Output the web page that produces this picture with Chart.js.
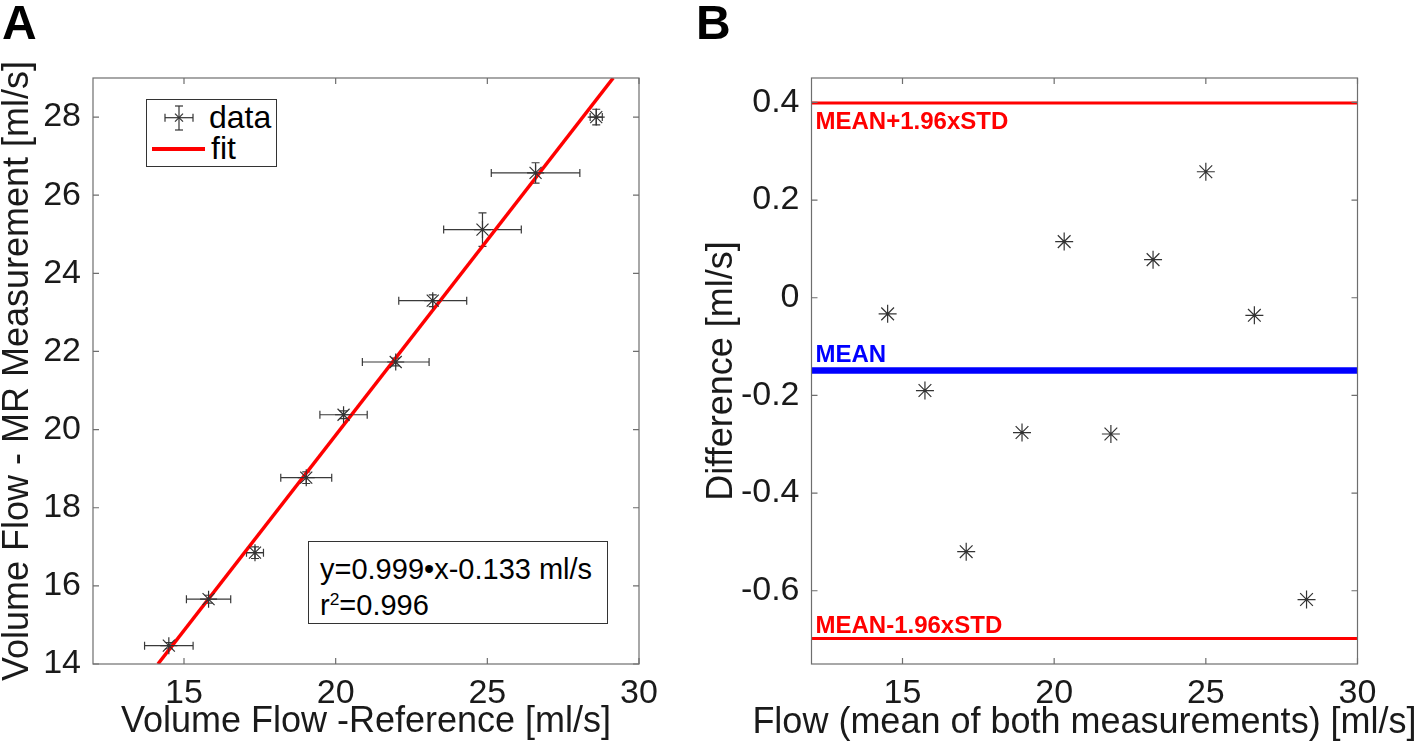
<!DOCTYPE html>
<html>
<head>
<meta charset="utf-8">
<title>Volume flow validation</title>
<script src="https://cdn.jsdelivr.net/npm/chart.js@4.4.1/dist/chart.umd.min.js"></script>
<style>
  body { margin: 0; background: #fff; font-family: "Liberation Sans", Arial, Helvetica, sans-serif; }
  #wrap { position: relative; width: 1418px; height: 750px; overflow: hidden; }
  canvas { position: absolute; top: 0; }
  #leftChart { left: 0; }
  #rightChart { left: 700px; }
  .txt { position: absolute; line-height: 1; white-space: nowrap; color: #000; }
  .panel { font-weight: bold; }
  .box { position: absolute; border: 1px solid #333; background: #fff; box-sizing: border-box; }
  .loa { font-weight: bold; color: #ff0000; }
  .mean { font-weight: bold; color: #0000ff; }
  #xTitleB { color: #1a1a1a; transform: translateX(-50%); }
  sup { font-size: 60%; vertical-align: 0.55em; line-height: 0; }
</style>
</head>
<body>
<div id="wrap">
  <canvas id="leftChart" width="700" height="750"></canvas>
  <canvas id="rightChart" width="718" height="750"></canvas>

  <div class="txt panel" id="lblA">A</div>
  <div class="txt panel" id="lblB">B</div>

  <!-- legend of panel A -->
  <div class="box" id="legendBox"></div>
  <svg id="legendSym" width="140" height="80" style="position:absolute;left:140px;top:95px;">
    <g stroke="#333" stroke-width="1.2" fill="none">
      <line x1="25" y1="22.7" x2="53" y2="22.7"/>
      <line x1="25" y1="18.7" x2="25" y2="26.7"/>
      <line x1="53" y1="18.7" x2="53" y2="26.7"/>
      <line x1="39" y1="11" x2="39" y2="35"/>
      <line x1="35" y1="11" x2="43" y2="11"/>
      <line x1="35" y1="35" x2="43" y2="35"/>
      <line x1="35" y1="18.7" x2="43" y2="26.7"/>
      <line x1="43" y1="18.7" x2="35" y2="26.7"/>
    </g>
    <line x1="12" y1="54" x2="65" y2="54" stroke="#ff0000" stroke-width="4"/>
  </svg>
  <div class="txt" id="legData">data</div>
  <div class="txt" id="legFit">fit</div>

  <!-- fit result box -->
  <div class="box" id="eqBox"></div>
  <div class="txt" id="eq1">y=0.999•x-0.133 ml/s</div>
  <div class="txt" id="eq2">r<sup>2</sup>=0.996</div>

  <!-- Bland-Altman line labels -->
  <div class="txt loa" id="lblUpper">MEAN+1.96xSTD</div>
  <div class="txt mean" id="lblMean">MEAN</div>
  <div class="txt loa" id="lblLower">MEAN-1.96xSTD</div>

  <!-- wider than the plot, so kept out of the canvas title (which would squeeze it) -->
  <div class="txt" id="xTitleB">Flow (mean of both measurements) [ml/s]</div>
</div>

<script>
// ---- values ----
// panel A: reference flow vs MR flow (ml/s) with error bars
const refFlow = [14.50, 15.81, 17.34, 19.03, 20.26, 21.98, 23.20, 24.84, 26.59, 28.59];
const mrFlow  = [14.47, 15.66, 16.85, 18.77, 20.38, 21.73, 23.30, 25.12, 26.57, 28.00];
const refErr  = [0.80, 0.73, 0.28, 0.84, 0.78, 1.10, 1.12, 1.28, 1.46, 0.20];
const mrErr   = [0.08, 0.10, 0.15, 0.15, 0.10, 0.10, 0.15, 0.43, 0.26, 0.20];
// fitted line end points
const fitX = [14.14, 29.15];
const fitY = [14.0, 29.0];

// panel B: Bland-Altman
const meanFlow = [14.51, 15.74, 17.10, 18.94, 20.33, 21.87, 23.26, 25.00, 26.60, 28.32];
const diffFlow = [-0.033, -0.190, -0.520, -0.276, 0.115, -0.279, 0.078, 0.258, -0.036, -0.618];
const meanDiff = -0.149;
const upperLoA = 0.399;
const lowerLoA = -0.698;

// axes
const flowRange = [12, 30];
const mrRange = [14, 29];
const diffRange = [-0.75, 0.45];
const flowTicks = [15, 20, 25, 30];
const mrTicks = [14, 16, 18, 20, 22, 24, 26, 28];
const diffTicks = [-0.6, -0.4, -0.2, 0, 0.2, 0.4];

const FONT = '"Liberation Sans", Arial, Helvetica, sans-serif';
const INK = '#1a1a1a';
const BOX = '#6e6e6e';
const TICK_SIZE = 34;
const TITLE_SIZE = 36;

// MATLAB style axes box with inward ticks on all four sides
const boxTicks = {
    id: 'boxTicks',
    afterDraw(chart) {
        const { ctx, chartArea: a, scales } = chart;
        const len = 6;
        ctx.save();
        ctx.strokeStyle = BOX;
        ctx.lineWidth = 1.2;
        ctx.strokeRect(a.left, a.top, a.right - a.left, a.bottom - a.top);
        ctx.beginPath();
        scales.x.ticks.forEach(t => {
            const px = scales.x.getPixelForValue(t.value);
            ctx.moveTo(px, a.bottom); ctx.lineTo(px, a.bottom - len);
            ctx.moveTo(px, a.top); ctx.lineTo(px, a.top + len);
        });
        scales.y.ticks.forEach(t => {
            const py = scales.y.getPixelForValue(t.value);
            ctx.moveTo(a.left, py); ctx.lineTo(a.left + len, py);
            ctx.moveTo(a.right, py); ctx.lineTo(a.right - len, py);
        });
        ctx.stroke();
        ctx.restore();
    }
};

// horizontal + vertical error bars for panel A
const errorBars = {
    id: 'errorBars',
    beforeDatasetsDraw(chart) {
        const { ctx, scales: { x, y } } = chart;
        const cap = 4;
        ctx.save();
        ctx.strokeStyle = '#3a3a3a';
        ctx.lineWidth = 1.2;
        ctx.beginPath();
        refFlow.forEach((rx, i) => {
            const px = x.getPixelForValue(rx);
            const py = y.getPixelForValue(mrFlow[i]);
            const x0 = x.getPixelForValue(rx - refErr[i]);
            const x1 = x.getPixelForValue(rx + refErr[i]);
            const y0 = y.getPixelForValue(mrFlow[i] - mrErr[i]);
            const y1 = y.getPixelForValue(mrFlow[i] + mrErr[i]);
            ctx.moveTo(x0, py); ctx.lineTo(x1, py);
            ctx.moveTo(x0, py - cap); ctx.lineTo(x0, py + cap);
            ctx.moveTo(x1, py - cap); ctx.lineTo(x1, py + cap);
            ctx.moveTo(px, y0); ctx.lineTo(px, y1);
            ctx.moveTo(px - cap, y0); ctx.lineTo(px + cap, y0);
            ctx.moveTo(px - cap, y1); ctx.lineTo(px + cap, y1);
        });
        ctx.stroke();
        ctx.restore();
    }
};

function xAxis(title, range) {
    return {
        type: 'linear', min: range[0], max: range[1],
        afterBuildTicks: s => { s.ticks = flowTicks.map(v => ({ value: v })); },
        afterFit: s => { s.height = 86; },
        grid: { display: false, drawTicks: false },
        border: { display: false },
        ticks: { color: INK, autoSkip: false, maxRotation: 0, padding: 9,
                 font: { family: FONT, size: TICK_SIZE }, callback: v => String(v) },
        title: { display: !!title, text: title, color: INK,
                 font: { family: FONT, size: TITLE_SIZE }, padding: { top: 0, bottom: 6 } }
    };
}

function yAxis(title, range, tickValues, width, titlePad) {
    return {
        type: 'linear', min: range[0], max: range[1],
        afterBuildTicks: s => { s.ticks = tickValues.map(v => ({ value: v })); },
        afterFit: s => { s.width = width; },
        grid: { display: false, drawTicks: false },
        border: { display: false },
        ticks: { color: INK, autoSkip: false, padding: 12,
                 font: { family: FONT, size: TICK_SIZE }, callback: v => String(v) },
        title: { display: true, text: title, color: INK,
                 font: { family: FONT, size: TITLE_SIZE, lineHeight: 1 }, padding: { top: titlePad, bottom: 0 } }
    };
}

const commonOptions = {
    responsive: false,
    animation: false,
    events: [],
    plugins: { legend: { display: false }, tooltip: { enabled: false } }
};

const leftChart = new Chart(document.getElementById('leftChart'), {
    type: 'scatter',
    data: {
        datasets: [
            {
                label: 'data',
                data: refFlow.map((v, i) => ({ x: v, y: mrFlow[i] })),
                pointStyle: 'star', pointRadius: 8.5,
                borderColor: '#333', borderWidth: 1.2, backgroundColor: 'rgba(0,0,0,0)'
            },
            {
                label: 'fit', type: 'line',
                data: fitX.map((v, i) => ({ x: v, y: fitY[i] })),
                borderColor: '#ff0000', borderWidth: 3.5, pointRadius: 0
            }
        ]
    },
    options: {
        ...commonOptions,
        layout: { padding: { top: 78, right: 61, left: 0, bottom: 0 } },
        scales: {
            x: xAxis('Volume Flow -Reference [ml/s]', flowRange),
            y: yAxis('Volume Flow - MR Measurement [ml/s]', mrRange, mrTicks, 93, 0)
        }
    },
    plugins: [errorBars, boxTicks]
});

const rightChart = new Chart(document.getElementById('rightChart'), {
    type: 'scatter',
    data: {
        datasets: [
            {
                label: 'difference',
                data: meanFlow.map((v, i) => ({ x: v, y: diffFlow[i] })),
                pointStyle: 'star', pointRadius: 9,
                borderColor: '#333', borderWidth: 1.2, backgroundColor: 'rgba(0,0,0,0)'
            },
            {
                label: 'mean+1.96sd', type: 'line',
                data: flowRange.map(v => ({ x: v, y: upperLoA })),
                borderColor: '#ff0000', borderWidth: 3, pointRadius: 0
            },
            {
                label: 'mean', type: 'line',
                data: flowRange.map(v => ({ x: v, y: meanDiff })),
                borderColor: '#0000ff', borderWidth: 6.5, pointRadius: 0
            },
            {
                label: 'mean-1.96sd', type: 'line',
                data: flowRange.map(v => ({ x: v, y: lowerLoA })),
                borderColor: '#ff0000', borderWidth: 3, pointRadius: 0
            }
        ]
    },
    options: {
        ...commonOptions,
        layout: { padding: { top: 78, right: 60.5, left: 0, bottom: 0 } },
        scales: {
            x: xAxis('', flowRange),
            y: yAxis('Difference [ml/s]', diffRange, diffTicks, 111.5, 4)
        }
    },
    plugins: [boxTicks]
});

// place an html text element by its left edge and baseline
function putText(id, left, baseline, size) {
    const el = document.getElementById(id);
    el.style.fontSize = size + 'px';
    el.style.left = left + 'px';
    el.style.top = (baseline - 0.8465 * size) + 'px';
}

function putBox(id, left, top, w, h) {
    const el = document.getElementById(id);
    Object.assign(el.style, { left: left + 'px', top: top + 'px', width: w + 'px', height: h + 'px' });
}

putText('lblA', 2, 40, 48);
putText('lblB', 696, 40, 48);

putBox('legendBox', 146, 99, 131, 68);
putText('legData', 209, 128, 32);
putText('legFit', 211, 159, 32);

putBox('eqBox', 308, 541, 300, 83);
putText('eq1', 320, 580, 29);
putText('eq2', 320, 616, 29);

// Bland-Altman labels follow their lines
const areaB = rightChart.chartArea;
const yB = rightChart.scales.y;
const xB = areaB.left + 700 + 4;
putText('lblUpper', xB, yB.getPixelForValue(upperLoA) + 26, 24);
putText('lblMean', xB, yB.getPixelForValue(meanDiff) - 8, 24);
putText('lblLower', xB, yB.getPixelForValue(lowerLoA) - 5.5, 24);

// x title of panel B, centred under the plot
putText('xTitleB', 700 + (areaB.left + areaB.right) / 2, 733, TITLE_SIZE);
</script>
</body>
</html>
